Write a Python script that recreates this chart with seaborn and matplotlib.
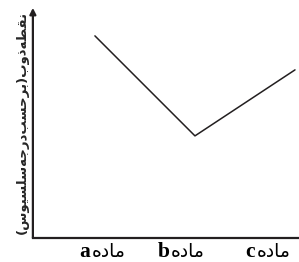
import pandas as pd
import matplotlib
matplotlib.use("Agg")
import matplotlib.pyplot as plt
import seaborn as sns

# Arabic script is pre-shaped (presentation forms) and reversed, since matplotlib
# has no bidi / shaping support
def rtl(s):
    return s[::-1].translate(str.maketrans("()", ")("))

# data
categories = ["a", "b", "c"]
x_pos = [0, 1, 2]
melting_point = [202, 102, 168]
label_pos = [-0.04, 0.75, 1.61]

word_madeh = rtl("\uFEE3\uFE8E\uFEA9\uFEE9")  # ماده
# نقطه ذوب (برحسب درجه سلسیوس)
ylabel_text = rtl("\uFEE7\uFED8\uFEC4\uFEEA\uFEAB\uFEED\uFE8F"
                  "(\uFE91\uFEAE\uFEA3\uFEB4\uFE90\uFEA9\uFEAD\uFE9F\uFEEA"
                  "\uFEB3\uFEE0\uFEB4\uFEF4\uFEEE\uFEB1)")

sns.set_style("white")
plt.rcParams["font.family"] = ["DejaVu Sans"]

ink = "#231f20"
df = pd.DataFrame({"x": x_pos, "y": melting_point})

fig = plt.figure(figsize=(2.99, 2.62), dpi=100)
ax = fig.add_axes([0.110, 0.092, 0.890, 0.878])
sns.lineplot(data=df, x="x", y="y", ax=ax, color=ink, lw=1.1)

ax.set_xlim(-0.62, 2.04)
ax.set_ylim(0, 230)
ax.set_xticks([])
ax.set_yticks([])
ax.set_xlabel("")
ax.set_ylabel(ylabel_text, fontsize=9.5, fontweight="bold", labelpad=3)

# category labels: bold serif letter + Persian word
for pos, cat in zip(label_pos, categories):
    ax.annotate(cat, xy=(pos, 0), xycoords=("data", "axes fraction"),
                xytext=(-0.5, -13.5), textcoords="offset points",
                ha="right", va="baseline", fontsize=15.5, fontweight="bold",
                family="Liberation Serif", color="black")
    ax.annotate(word_madeh, xy=(pos, 0), xycoords=("data", "axes fraction"),
                xytext=(0.5, -13.5), textcoords="offset points",
                ha="left", va="baseline", fontsize=13.5, color="black")

for s in ["top", "right", "left"]:
    ax.spines[s].set_visible(False)
ax.spines["bottom"].set_color(ink)
ax.spines["bottom"].set_linewidth(1.6)

# left axis drawn as an arrow
ax.annotate("", xy=(0, 1), xytext=(0, 0), xycoords="axes fraction",
            arrowprops=dict(arrowstyle="-|>", lw=1.6, color=ink,
                            mutation_scale=9, shrinkA=0, shrinkB=0))

fig.savefig("out.png", dpi=100)
